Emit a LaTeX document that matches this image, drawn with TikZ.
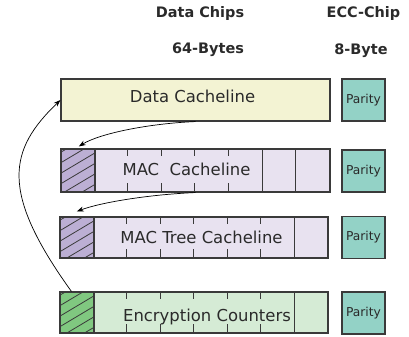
\documentclass[tikz,border=0pt]{standalone}
\usepackage{fontspec}
\setmainfont{DejaVu Sans}
\usetikzlibrary{arrows.meta,calc}

\definecolor{edge}{HTML}{3A3A3A}
\definecolor{textcol}{HTML}{2A2A2A}
\definecolor{datafill}{HTML}{F3F3D3}
\definecolor{macfill}{HTML}{E8E2F0}
\definecolor{macmark}{HTML}{BCAFD4}
\definecolor{encfill}{HTML}{D5EBD5}
\definecolor{encmark}{HTML}{80C880}
\definecolor{parityfill}{HTML}{93D2C6}

\tikzset{
  box/.style={draw=edge, line width=1.1bp, inner sep=0pt, minimum height=42bp},
  cellmark/.style={box, anchor=north west, minimum width=33.5bp},
  paritybox/.style={box, fill=parityfill, minimum width=43bp, text=textcol,
    font=\fontsize{12.3}{14}\selectfont},
  tick/.style={draw=edge, line width=0.8bp},
  hatchline/.style={draw=edge, line width=0.8bp},
  hdr/.style={font=\fontsize{14.5}{16}\selectfont\bfseries, inner sep=0pt,
    anchor=base, text=textcol},
  lbl/.style={font=\fontsize{16.5}{18}\selectfont, inner sep=0pt, anchor=base,
    text=textcol},
  link/.style={-{Stealth[length=7bp,width=5bp]}, line width=0.7bp, draw=black}
}

\begin{document}
\begin{tikzpicture}[x=1bp,y=-1bp]
\useasboundingbox (0,0) rectangle (409,337);

% column headings
\node[hdr] (hdata) at (200,17.5) {Data Chips};
\node[hdr] (hecc)  at (363.5,17.5) {ECC-Chip};
\node[hdr] (hsize) at (208,53.5) {64-Bytes};
\node[hdr] (hpar)  at (361,54) {8-Byte};

% data cacheline
\node[box, fill=datafill, minimum width=269bp] (data) at (195.5,100) {};
\node[lbl] (tdata) at (192.5,102.7) {Data Cacheline};
\node[paritybox] (p1) at (363.5,100) {Parity};

% MAC cacheline
\node[box, fill=macfill, minimum width=269bp, minimum height=43bp] (mac) at (195.5,170.5) {};
\node[cellmark, fill=macmark, minimum width=33.6bp, minimum height=43bp] (machatch) at (mac.north west) {};
\begin{scope}
  \clip (machatch.north west) rectangle (machatch.south east);
  \foreach \k in {-2,...,6}
    \draw[hatchline] ($(machatch.north west)+(0,4+\k*10.5)$) -- ++(33.6,-20);
\end{scope}
\draw[box, fill=none] (machatch.north west) rectangle (machatch.south east);
\foreach \k in {2,...,5} {
  \draw[tick] ($(mac.north west)+(\k*33.6,0)$) -- ++(0,8);
  \draw[tick] ($(mac.south west)+(\k*33.6,0)$) -- ++(0,-10);
}
\foreach \k in {6,7}
  \draw[tick] ($(mac.north west)+(\k*33.6,0)$) -- ($(mac.south west)+(\k*33.6,0)$);
\node[lbl] (tmac) at (186.5,175) {MAC\ \ Cacheline};
\node[paritybox] (p2) at (363.5,171) {Parity};

% MAC tree cacheline
\node[box, fill=macfill, minimum width=268bp, minimum height=41bp] (tree) at (194,237.5) {};
\node[cellmark, fill=macmark, minimum height=41bp] (treehatch) at (tree.north west) {};
\begin{scope}
  \clip (treehatch.north west) rectangle (treehatch.south east);
  \foreach \k in {-2,...,6}
    \draw[hatchline] ($(treehatch.north west)+(0,4+\k*10.5)$) -- ++(33.5,-20);
\end{scope}
\draw[box, fill=none] (treehatch.north west) rectangle (treehatch.south east);
\foreach \k in {2,...,6} {
  \draw[tick] ($(tree.north west)+(\k*33.5,0)$) -- ++(0,8);
  \draw[tick] ($(tree.south west)+(\k*33.5,0)$) -- ++(0,-10);
}
\draw[tick] ($(tree.north west)+(7*33.5,0)$) -- ($(tree.south west)+(7*33.5,0)$);
\node[lbl] (ttree) at (201.5,243.3) {MAC Tree Cacheline};
\node[paritybox] (p3) at (363.5,237.5) {Parity};

% encryption counters
\node[box, fill=encfill, minimum width=268bp, minimum height=41bp] (enc) at (194,312.5) {};
\node[cellmark, fill=encmark, minimum height=41bp] (enchatch) at (enc.north west) {};
\begin{scope}
  \clip (enchatch.north west) rectangle (enchatch.south east);
  \foreach \k in {-2,...,6}
    \draw[hatchline] ($(enchatch.north west)+(0,4+\k*10.5)$) -- ++(33.5,-20);
\end{scope}
\draw[box, fill=none] (enchatch.north west) rectangle (enchatch.south east);
\foreach \k in {2,...,6} {
  \draw[tick] ($(enc.north west)+(\k*33.5,0)$) -- ++(0,8);
  \draw[tick] ($(enc.south west)+(\k*33.5,0)$) -- ++(0,-10);
}
\draw[tick] ($(enc.north west)+(7*33.5,0)$) -- ($(enc.south west)+(7*33.5,0)$);
\node[lbl] (tenc) at (207,321.7) {Encryption Counters};
\node[paritybox] (p4) at (363.5,313) {Parity};

% pointers between the lines
\draw[link] (data.south) .. controls +(-47,2) and +(21,-13) .. ($(machatch.north)+(1,-2)$);
\draw[link] (mac.south) .. controls +(-47,2) and +(24,-9) .. ($(treehatch.north)+(0,-5)$);
\draw[link] ($(enchatch.north west)+(12,0)$) .. controls +(-72,-100) and +(-52,50) .. (data.west);
\end{tikzpicture}
\end{document}
